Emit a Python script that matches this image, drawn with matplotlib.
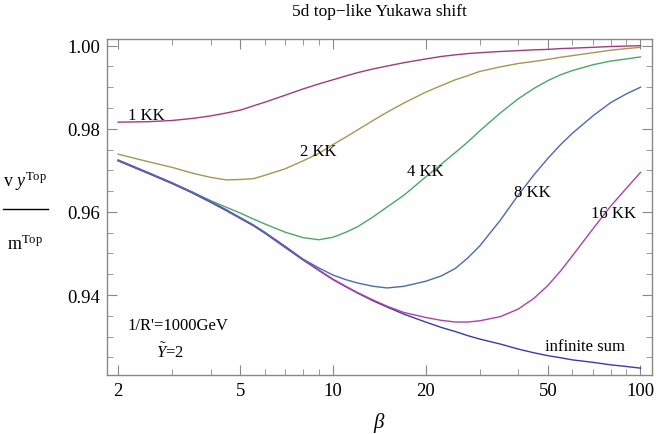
import numpy as np
import matplotlib
matplotlib.use("Agg")
import matplotlib.pyplot as plt
from matplotlib.ticker import FixedLocator, NullFormatter, FixedFormatter
from matplotlib.lines import Line2D

plt.rcParams['font.family'] = ['Liberation Serif', 'DejaVu Serif']
plt.rcParams['mathtext.fontset'] = 'custom'
plt.rcParams['mathtext.rm'] = 'Liberation Serif'
plt.rcParams['mathtext.it'] = 'Liberation Serif:italic'

# beta values and curves
beta = [2, 2.5, 3, 3.5, 4, 4.5, 5, 5.5, 6, 7, 8, 9, 10, 11, 12, 13.5, 15, 17, 20,
        22.5, 25, 27.5, 30, 35, 40, 45, 50, 55, 60, 70, 80, 90, 100]

kk1 = [0.9816, 0.9817, 0.9820, 0.9825, 0.9831, 0.9838, 0.9845, 0.9855, 0.9864, 0.9881,
       0.9896, 0.9908, 0.9918, 0.9927, 0.9935, 0.9944, 0.9951, 0.9959, 0.9968, 0.9974,
       0.9978, 0.9981, 0.9983, 0.9986, 0.9988, 0.9990, 0.9991, 0.9993, 0.9994, 0.9996,
       0.9998, 0.9999, 1.0000]
kk2 = [0.9739, 0.9721, 0.9707, 0.9693, 0.9683, 0.9677, 0.9678, 0.9680, 0.9688, 0.9704,
       0.9723, 0.9741, 0.9762, 0.9780, 0.9797, 0.9820, 0.9840, 0.9862, 0.9888, 0.9904,
       0.9918, 0.9928, 0.9938, 0.9949, 0.9957, 0.9962, 0.9967, 0.9972, 0.9976, 0.9983,
       0.9989, 0.9993, 0.9996]
kk4 = [0.9724, 0.9694, 0.9669, 0.9647, 0.9627, 0.9611, 0.9597, 0.9583, 0.9571, 0.9551,
       0.9538, 0.9533, 0.9539, 0.9551, 0.9564, 0.9588, 0.9612, 0.9640, 0.9684, 0.9715,
       0.9743, 0.9769, 0.9795, 0.9838, 0.9872, 0.9897, 0.9916, 0.9930, 0.9940, 0.9954,
       0.9963, 0.9968, 0.9973]
kk8 = [0.9725, 0.9695, 0.9670, 0.9647, 0.9625, 0.9605, 0.9586, 0.9569, 0.9551, 0.9517,
       0.9486, 0.9465, 0.9448, 0.9437, 0.9429, 0.9421, 0.9417, 0.9421, 0.9433, 0.9446,
       0.9464, 0.9490, 0.9518, 0.9580, 0.9640, 0.9689, 0.9729, 0.9762, 0.9789, 0.9831,
       0.9863, 0.9884, 0.9900]
kk16 = [0.9724, 0.9694, 0.9669, 0.9646, 0.9624, 0.9604, 0.9585, 0.9568, 0.9550, 0.9515,
        0.9485, 0.9460, 0.9438, 0.9421, 0.9406, 0.9388, 0.9373, 0.9358, 0.9346, 0.9339,
        0.9335, 0.9335, 0.9338, 0.9348, 0.9366, 0.9392, 0.9423, 0.9458, 0.9494, 0.9559,
        0.9614, 0.9657, 0.9695]
kinf = [0.9723, 0.9693, 0.9668, 0.9645, 0.9623, 0.9603, 0.9584, 0.9567, 0.9549, 0.9514,
        0.9484, 0.9459, 0.9437, 0.9420, 0.9405, 0.9386, 0.9371, 0.9354, 0.9335, 0.9322,
        0.9312, 0.9302, 0.9294, 0.9282, 0.9270, 0.9261, 0.9254, 0.9249, 0.9244, 0.9238,
        0.9232, 0.9228, 0.9224]

fig = plt.figure(figsize=(6.63, 4.35), dpi=100)
ax = fig.add_axes([0.1614, 0.1356, 0.8220, 0.7724])

ax.plot(beta, kk1, color='#A23B7A', lw=1.0)
ax.plot(beta, kk2, color='#A89650', lw=1.0)
ax.plot(beta, kk4, color='#4BA862', lw=1.0)
ax.plot(beta, kinf, color='#3A3AAA', lw=1.0)
ax.plot(beta, kk16, color='#B040A8', lw=1.0)
ax.plot(beta, kk8, color='#4A6AB0', lw=1.0)

ax.set_xscale('log')
ax.set_xlim(1.84, 109)
ax.set_ylim(0.92075, 1.0016)

ax.xaxis.set_major_locator(FixedLocator([2, 5, 10, 20, 50, 100]))
ax.xaxis.set_major_formatter(FixedFormatter(['2', '5', '10', '20', '50', '100']))
ax.xaxis.set_minor_locator(FixedLocator([3, 4, 6, 7, 8, 9, 30, 40, 60, 70, 80, 90]))
ax.xaxis.set_minor_formatter(NullFormatter())
ax.set_yticks([0.94, 0.96, 0.98, 1.00])
ax.set_yticklabels(['0.94', '0.96', '0.98', '1.00'])
ax.set_yticks(np.arange(0.925, 1.0, 0.005), minor=True)

ax.tick_params(which='both', direction='in', top=True, right=True, color='#888888',
               labelsize=13.5, pad=5)
ax.tick_params(which='major', length=7, width=0.8)
ax.tick_params(which='minor', length=4, width=0.6)
for s in ax.spines.values():
    s.set_color('#888888')
    s.set_linewidth(1.0)

ax.set_title('5d top\u2212like Yukawa shift', fontsize=12.5, pad=17)
ax.set_xlabel(r'$\beta$', fontsize=15)
ax.xaxis.set_label_coords(0.5, -0.105)

# fraction label on the left
fig.text(0.038, 0.584, r'v $y^{\mathrm{Top}}$', fontsize=13, ha='center', va='center')
fig.text(0.038, 0.438, r'm$^{\mathrm{Top}}$', fontsize=13, ha='center', va='center')
fig.add_artist(Line2D([0.004, 0.072], [0.517, 0.517], color='k', lw=1.0,
                      transform=fig.transFigure))

ax.text(2.47, 0.9833, '1 KK', fontsize=12, ha='center', va='center')
ax.text(8.97, 0.9746, '2 KK', fontsize=12, ha='center', va='center')
ax.text(20, 0.9698, '4 KK', fontsize=12, ha='center', va='center')
ax.text(44.4, 0.9647, '8 KK', fontsize=12, ha='center', va='center')
ax.text(82, 0.9598, '16 KK', fontsize=12, ha='center', va='center')
ax.text(66, 0.9278, 'infinite sum', fontsize=12, ha='center', va='center')
ax.text(2.15, 0.9327, "1/R'=1000GeV", fontsize=12, ha='left', va='center')
ax.text(2.95, 0.9264, r'$\tilde{Y}$=2', fontsize=12, ha='center', va='center')

fig.savefig('out.png', dpi=100)
